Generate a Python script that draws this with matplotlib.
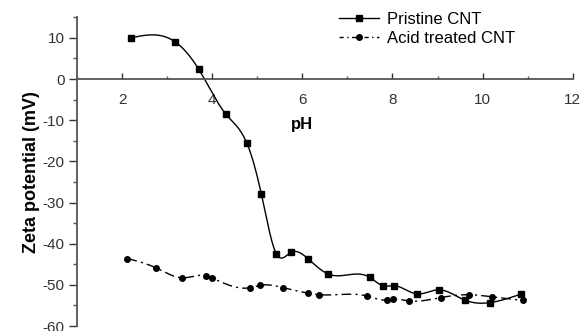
import numpy as np
import matplotlib
matplotlib.use("Agg")
import matplotlib.pyplot as plt
from matplotlib.ticker import MultipleLocator

plt.rcParams['font.family'] = ['Liberation Sans', 'DejaVu Sans']
plt.rcParams['axes.unicode_minus'] = False

# Data
ph_pristine = [2.2, 3.17, 3.7, 4.3, 4.77, 5.09, 5.42, 5.75, 6.13, 6.58, 7.5, 7.78,
               8.04, 8.54, 9.03, 9.6, 10.17, 10.86]
zeta_pristine = [10.0, 9.1, 2.4, -8.5, -15.6, -27.9, -42.4, -42.1, -43.7, -47.4, -48.2,
                 -50.2, -50.2, -52.2, -51.2, -53.7, -54.3, -52.2]

ph_acid = [2.12, 2.76, 3.34, 3.87, 3.99, 4.84, 5.07, 5.58, 6.12, 6.38, 7.43, 7.87, 8.01,
           8.36, 9.07, 9.7, 10.2, 10.9]
zeta_acid = [-43.6, -45.9, -48.3, -47.8, -48.3, -50.7, -50.1, -50.7, -52.0, -52.4, -52.7,
             -53.7, -53.5, -53.9, -53.1, -52.4, -52.9, -53.8]

x_ticks = [2, 4, 6, 8, 10, 12]
y_ticks = [-60, -50, -40, -30, -20, -10, 0, 10]


def natural_spline(x, y, n=600):
    x = np.asarray(x, float)
    y = np.asarray(y, float)
    m = len(x)
    h = np.diff(x)
    A = np.zeros((m, m))
    b = np.zeros(m)
    A[0, 0] = 1
    A[-1, -1] = 1
    for i in range(1, m - 1):
        A[i, i - 1] = h[i - 1]
        A[i, i] = 2 * (h[i - 1] + h[i])
        A[i, i + 1] = h[i]
        b[i] = 3 * ((y[i + 1] - y[i]) / h[i] - (y[i] - y[i - 1]) / h[i - 1])
    c = np.linalg.solve(A, b)
    bb = (y[1:] - y[:-1]) / h - h * (2 * c[:-1] + c[1:]) / 3
    d = (c[1:] - c[:-1]) / (3 * h)
    xs = np.linspace(x[0], x[-1], n)
    idx = np.clip(np.searchsorted(x, xs) - 1, 0, m - 2)
    dx = xs - x[idx]
    ys = y[idx] + bb[idx] * dx + c[idx] * dx ** 2 + d[idx] * dx ** 3
    return xs, ys


fig = plt.figure(figsize=(5.84, 3.31), dpi=100)
ax = fig.add_axes([0.1318, 0.0151, 0.849, 0.9326])

xs, ys = natural_spline(ph_pristine, zeta_pristine)
ax.plot(xs, ys, color='black', lw=1.0)
ax.plot(ph_pristine, zeta_pristine, ls='none', marker='s', ms=4, color='black')
xa, ya = natural_spline(ph_acid, zeta_acid)
ax.plot(xa, ya, color='black', lw=1.0, ls=(0, (7, 3, 1.5, 3)))
ax.plot(ph_acid, zeta_acid, ls='none', marker='o', ms=4, color='black')

# legend proxies
h1, = ax.plot([], [], color='black', lw=1.0, marker='s', ms=4)
h2, = ax.plot([], [], color='black', lw=1.0, marker='o', ms=4, ls=(0, (3, 2.5, 1, 2.5)))
ax.legend([h1, h2], ['Pristine CNT', 'Acid treated CNT'], loc='upper left',
          bbox_to_anchor=(336 / 584, 1 - 9 / 331), bbox_transform=fig.transFigure,
          frameon=False, fontsize=12, handlelength=2.4, handletextpad=0.45,
          labelspacing=0.2, borderpad=0.2, borderaxespad=0)

ax.set_xlim(1, 12)
ax.set_ylim(-60, 15)
ax.spines['top'].set_visible(False)
ax.spines['right'].set_visible(False)
ax.spines['bottom'].set_position(('data', 0))
for s in ('left', 'bottom'):
    ax.spines[s].set_color('#555555')
    ax.spines[s].set_linewidth(1.3)

ax.set_xticks(x_ticks)
ax.set_yticks(y_ticks)
ax.xaxis.set_minor_locator(MultipleLocator(1))
ax.yaxis.set_minor_locator(MultipleLocator(5))
ax.tick_params(axis='x', which='major', direction='in', length=4, width=1, pad=10,
               labelsize=11, colors='#333333')
ax.tick_params(axis='x', which='minor', direction='in', length=2.5, width=1, colors='#555555')
ax.tick_params(axis='y', which='major', direction='out', length=6, width=1, pad=3,
               labelsize=11, colors='#333333')
ax.tick_params(axis='y', which='minor', direction='out', length=3, width=1, colors='#555555')

ax.set_ylabel('Zeta potential (mV)', fontsize=13, fontweight='bold', labelpad=2)
ax.text(6.0, -11.0, 'pH', fontsize=12, fontweight='bold', ha='center', va='center')

fig.savefig('out.png', dpi=100)
